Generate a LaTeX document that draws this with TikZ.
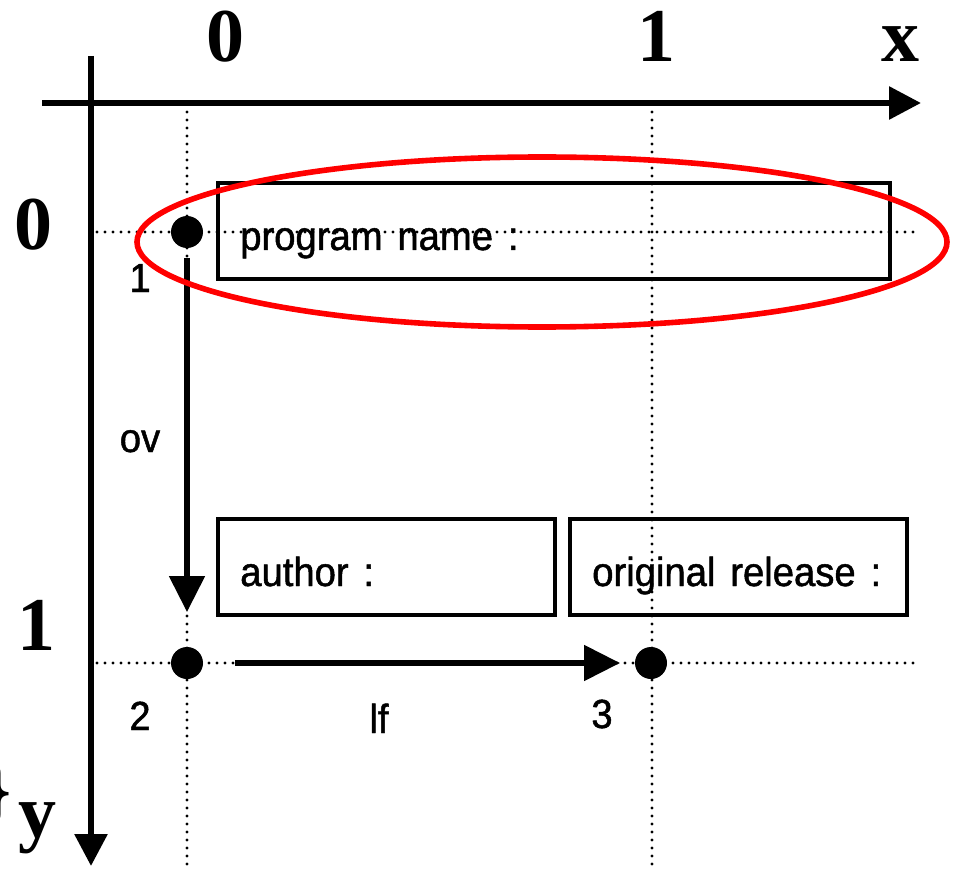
\documentclass[tikz,border=0pt]{standalone}
\usepackage{fontspec}
\setmainfont{Liberation Serif}
\setsansfont{Liberation Sans}
\newfontfamily\labelfont{Liberation Sans}[FakeBold=1.2,FakeStretch=0.94,WordSpace=1.4]
\usetikzlibrary{arrows.meta}
\begin{document}
\begin{tikzpicture}[x=0.75pt,y=-0.75pt,
  axis/.style={line width=4.5pt,-{Triangle[length=24pt,width=24pt]}},
  link/.style={line width=4.5pt,-{Triangle[length=27pt,width=26pt]}},
  guide/.style={line width=2.3pt,dash pattern=on 0pt off 6pt,line cap=round},
  knot/.style={circle,fill=black,inner sep=0pt,minimum size=24pt},
  field/.style={draw,line width=2.6pt,minimum height=72pt,inner sep=0pt},
  lbl/.style={font=\labelfont\fontsize{30.5}{35}\selectfont,inner sep=0pt},
  big/.style={font=\bfseries\fontsize{57}{60}\selectfont,inner sep=0pt}]
\useasboundingbox (0,0) rectangle (961,870);

% grid guides
\draw[guide] (187,112) -- (187,870);
\draw[guide] (652,112) -- (652,870);
\draw[guide] (97,232) -- (915,232);
\draw[guide] (97,663) -- (915,663);

% axes
\coordinate (xs) at (42,103);
\coordinate (xe) at (921,103);
\coordinate (ys) at (91,56);
\coordinate (ye) at (91,866);
\draw[axis] (xs) -- (xe);
\draw[axis] (ys) -- (ye);

% axis labels
\node[big,anchor=base] (x0) at (225,62) {0};
\node[big,anchor=base] (x1) at (656,62) {1};
\node[big,anchor=base] (xl) at (900,62) {x};
\node[big,anchor=base] (y0) at (34,250) {0};
\node[big,anchor=base] (y1) at (36,650) {1};
\node[big,anchor=base] (yl) at (37,837) {y};
\node[big,anchor=base east] (br) at (12,815) {\}};

% fields
\node[field,minimum width=504pt] (pn) at (554,231) {};
\node[lbl,anchor=base west] (pnt) at (240,250) {program name :};
\node[field,minimum width=252.75pt] (au) at (386.5,567) {};
\node[lbl,anchor=base west] (aut) at (240,586) {author :};
\node[field,minimum width=252.75pt] (orr) at (738.5,567) {};
\node[lbl,anchor=base west] (ort) at (592,586) {original release :};

% points
\node[knot] (p1) at (187,232) {};
\node[knot] (p2) at (187,663) {};
\node[knot] (p3) at (651,663) {};
\node[lbl,anchor=base] (n1) at (140,292) {1};
\node[lbl,anchor=base] (n2) at (140,730) {2};
\node[lbl,anchor=base] (n3) at (602,728) {3};

% links
\draw[link,shorten <=7.5pt,shorten >=26pt] (p1) -- (p2);
\node[lbl,anchor=base] (ov) at (140,452) {ov};
\draw[link,shorten <=24pt,shorten >=11pt] (p2) -- (p3);
\node[lbl,anchor=base] (lf) at (379,733) {lf};

% highlight
\draw[red,line width=4.2pt] (542,242) ellipse [x radius=405, y radius=85];
\end{tikzpicture}
\end{document}
